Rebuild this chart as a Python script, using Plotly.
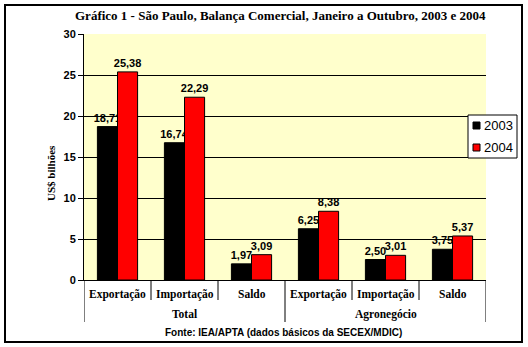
import plotly.graph_objects as go

# --- data -------------------------------------------------------------
groups = ["Total", "Agronegócio"]
items = ["Exportação", "Importação", "Saldo"]
series_names = ["2003", "2004"]
values_2003 = [18.71, 16.74, 1.97, 6.25, 2.50, 3.75]
values_2004 = [25.38, 22.29, 3.09, 8.38, 3.01, 5.37]
series_colors = ["#000000", "#FF0000"]
y_ticks = [0, 5, 10, 15, 20, 25, 30]

title_text = "Gráfico 1 - São Paulo, Balança Comercial, Janeiro a Outubro, 2003 e 2004"
y_title = "US$ bilhões"
source_text = "Fonte: IEA/APTA (dados básicos da SECEX/MDIC)"

# --- geometry of the page ------------------------------------------------
W, H = 528, 347
L, R, T, B = 84, 42, 34, 67
PW, PH = W - L - R, H - T - B


def px(x):
    return (x - L) / PW


def py(y):
    return (H - B - y) / PH


def fmt(v):
    return f"{v:.2f}".replace(".", ",")


n = len(groups) * len(items)
xs = list(range(n))

fig = go.Figure()
# empty trace that puts the grid-only axis on the page
fig.add_trace(go.Scatter(x=[None], y=[None], yaxis="y2", mode="markers",
                         showlegend=False, hoverinfo="skip"))
for name, vals, col in zip(series_names, [values_2003, values_2004], series_colors):
    fig.add_trace(go.Bar(
        x=xs, y=vals, name=name,
        marker=dict(color=col, line=dict(color="#000000", width=1)),
        text=[fmt(v) for v in vals], textposition="outside",
        textfont=dict(family="Liberation Sans", size=11, color="#000000", weight="bold"),
        constraintext="none", cliponaxis=False, showlegend=False,
    ))

shapes = []
annotations = []

# category separators below the axis
for k in range(n + 1):
    outer = k % len(items) == 0
    shapes.append(dict(type="line", xref="x", yref="paper",
                       x0=k - 0.5, x1=k - 0.5, y0=0, y1=py(322 if outer else 300),
                       line=dict(color="#000000", width=1)))

serif_b = dict(family="Liberation Serif", size=11.5, color="#000000", weight="bold")
for i in range(n):
    annotations.append(dict(text=items[i % len(items)], xref="x", yref="paper",
                            x=i, y=py(294), showarrow=False, font=serif_b,
                            xanchor="center", yanchor="middle"))
for g, name in enumerate(groups):
    annotations.append(dict(text=name, xref="x", yref="paper",
                            x=g * len(items) + (len(items) - 1) / 2, y=py(314),
                            showarrow=False, font=serif_b,
                            xanchor="center", yanchor="middle"))

annotations.append(dict(text=source_text, xref="paper", yref="paper",
                        x=px(283), y=py(332), showarrow=False,
                        font=dict(family="Liberation Sans", size=10, color="#000000", weight="bold"),
                        xanchor="center", yanchor="middle"))

annotations.append(dict(text=y_title, xref="paper", yref="paper",
                        x=px(51), y=py(173), showarrow=False, textangle=-90,
                        font=dict(family="Liberation Serif", size=11, color="#000000", weight="bold"),
                        xanchor="center", yanchor="middle"))

annotations.append(dict(text=title_text, xref="paper", yref="paper",
                        x=px(280), y=py(15), showarrow=False,
                        font=dict(family="Liberation Serif", size=13, color="#000000", weight="bold"),
                        xanchor="center", yanchor="middle"))

# legend box
shapes.append(dict(type="rect", xref="paper", yref="paper",
                   x0=px(468), x1=px(517), y0=py(115), y1=py(158),
                   fillcolor="#FFFFFF", line=dict(color="#000000", width=1), layer="above"))
for j, (name, col) in enumerate(zip(series_names, series_colors)):
    cy = 125.5 + 22 * j
    shapes.append(dict(type="rect", xref="paper", yref="paper",
                       x0=px(473), x1=px(480), y0=py(cy - 3.5), y1=py(cy + 3.5),
                       fillcolor=col, line=dict(color="#000000", width=1), layer="above"))
    annotations.append(dict(text=name, xref="paper", yref="paper",
                            x=px(482), y=py(cy), showarrow=False,
                            font=dict(family="Liberation Sans", size=13, color="#000000"),
                            xanchor="left", yanchor="middle"))

# outer frame
shapes.append(dict(type="rect", xref="paper", yref="paper",
                   x0=px(5), x1=px(522), y0=py(342), y1=py(5),
                   line=dict(color="#000000", width=2), layer="above"))

fig.update_layout(
    width=W, height=H,
    margin=dict(l=L, r=R, t=T, b=B),
    paper_bgcolor="#FFFFFF", plot_bgcolor="#FFFFCC",
    barmode="group", bargap=0.4, bargroupgap=0,
    shapes=shapes, annotations=annotations,
    showlegend=False,
    xaxis=dict(range=[-0.5, n - 0.5], showticklabels=False, ticks="",
               showgrid=False, zeroline=False, showline=True,
               linecolor="#000000", linewidth=1),
    yaxis=dict(range=[0, 30], tickvals=y_ticks, ticks="outside", ticklen=5,
               tickcolor="#000000", showline=True, linecolor="#000000", linewidth=1,
               showgrid=False, zeroline=False,
               tickfont=dict(family="Liberation Sans", size=11, color="#000000", weight="bold")),
    # grid-only axis: inner gridlines, none along the top edge
    yaxis2=dict(range=[0, 30], tickvals=y_ticks[1:-1], overlaying="y", side="left",
                showticklabels=False, ticks="", showline=False, zeroline=False,
                showgrid=True, gridcolor="#000000", gridwidth=1),
)

fig.write_html("out.html")
